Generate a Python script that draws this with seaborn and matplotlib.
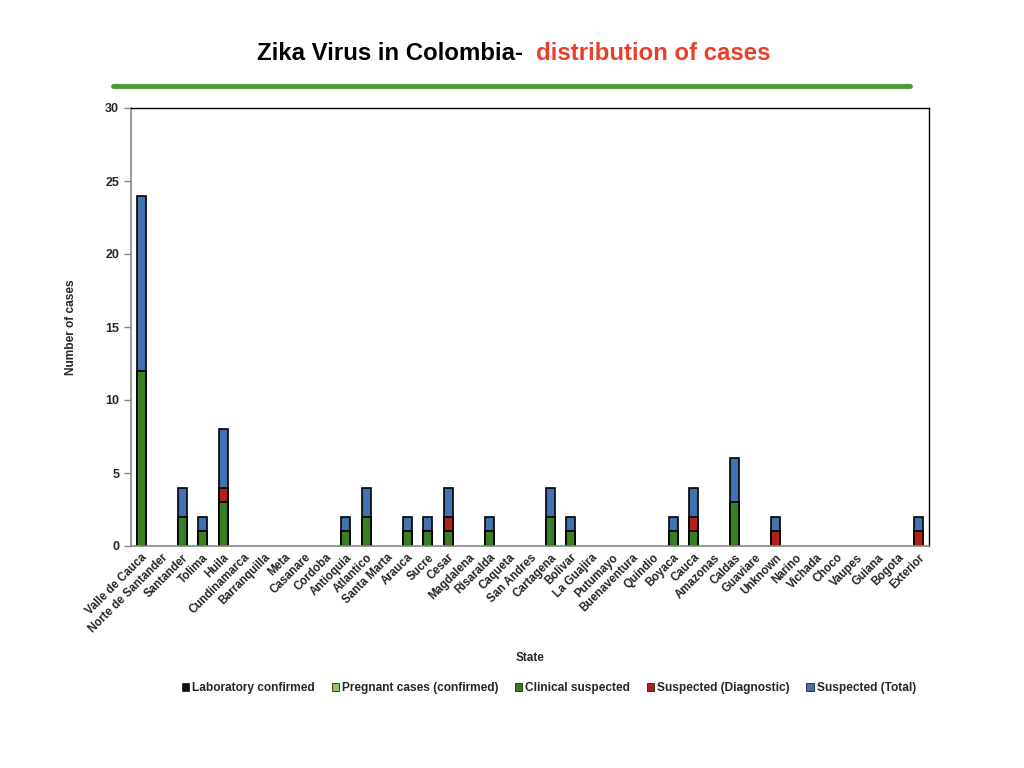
import numpy as np
import pandas as pd
import matplotlib
matplotlib.use('Agg')
import matplotlib.pyplot as plt
import seaborn as sns
from matplotlib.patches import Patch

sns.set_style('white')
plt.rcParams['font.family'] = ['Liberation Sans', 'DejaVu Sans']
plt.rcParams['font.weight'] = 'bold'

# data
states = ['Valle de Cauca', 'Norte de Santander', 'Santander', 'Tolima', 'Huila',
          'Cundinamarca', 'Barranquilla', 'Meta', 'Casanare', 'Cordoba',
          'Antioquia', 'Atlantico', 'Santa Marta', 'Arauca', 'Sucre', 'Cesar',
          'Magdalena', 'Risaralda', 'Caqueta', 'San Andres', 'Cartagena',
          'Bolivar', 'La Guajira', 'Putumayo', 'Buenaventura', 'Quindio',
          'Boyaca', 'Cauca', 'Amazonas', 'Caldas', 'Guaviare', 'Unknown',
          'Narino', 'Vichada', 'Choco', 'Vaupes', 'Guiana', 'Bogota', 'Exterior']
lab_confirmed = [0] * 39
pregnant = [0] * 39
clinical = [12, 0, 2, 1, 3, 0, 0, 0, 0, 0, 1, 2, 0, 1, 1, 1, 0, 1, 0, 0, 2,
            1, 0, 0, 0, 0, 1, 1, 0, 3, 0, 0, 0, 0, 0, 0, 0, 0, 0]
diagnostic = [0, 0, 0, 0, 1, 0, 0, 0, 0, 0, 0, 0, 0, 0, 0, 1, 0, 0, 0, 0, 0,
              0, 0, 0, 0, 0, 0, 1, 0, 0, 0, 1, 0, 0, 0, 0, 0, 0, 1]
suspected_total = [12, 0, 2, 1, 4, 0, 0, 0, 0, 0, 1, 2, 0, 1, 1, 2, 0, 1, 0, 0, 2,
                   1, 0, 0, 0, 0, 1, 2, 0, 3, 0, 1, 0, 0, 0, 0, 0, 0, 1]

series = ['Laboratory confirmed', 'Pregnant cases (confirmed)', 'Clinical suspected',
          'Suspected (Diagnostic)', 'Suspected (Total)']
colors = ['#111111', '#8cc56b', '#3a7d23', '#b0211a', '#4472b0']

df = pd.DataFrame({'state': states, 'lab': lab_confirmed, 'preg': pregnant,
                   'clin': clinical, 'diag': diagnostic, 'total': suspected_total})
# cumulative heights for stacking (draw tallest first)
df['c1'] = df['lab']
df['c2'] = df['c1'] + df['preg']
df['c3'] = df['c2'] + df['clin']
df['c4'] = df['c3'] + df['diag']
df['c5'] = df['c4'] + df['total']

fig = plt.figure(figsize=(10.24, 7.68), dpi=100)
ax = fig.add_axes([131 / 1024, 1 - 546 / 768, 798 / 1024, 438 / 768])

for col, c in zip(['c5', 'c4', 'c3', 'c2', 'c1'], colors[::-1]):
    sub = df[df[col] > 0]
    if len(sub) == 0:
        continue
    sns.barplot(data=sub, x='state', y=col, color=c, ax=ax, width=0.44,
                edgecolor='black', linewidth=1.2, saturation=1, order=states)

ax.set_xlim(-0.5, len(states) - 0.5)
ax.set_ylim(0, 30)
ax.set_yticks([0, 5, 10, 15, 20, 25, 30])
ax.set_xticks(np.arange(len(states)))
ax.set_xticklabels(states, rotation=45, ha='right', rotation_mode='anchor',
                   fontsize=8.3, fontweight='bold')
ax.tick_params(axis='x', length=0, pad=4)
ax.set_xticks(np.arange(len(states) + 1) - 0.5, minor=True)
ax.tick_params(axis='x', which='minor', length=5, color='#888888', width=1)
ax.tick_params(axis='y', length=5, color='#888888', width=1, labelsize=9, left=True)
for t in ax.get_yticklabels():
    t.set_fontweight('bold')

for side in ['left', 'bottom']:
    ax.spines[side].set_color('#888888')
    ax.spines[side].set_linewidth(1.2)
for side in ['top', 'right']:
    ax.spines[side].set_color('black')
    ax.spines[side].set_linewidth(1)

ax.set_xlabel('State', fontsize=8.5, fontweight='bold', labelpad=0)
ax.xaxis.set_label_coords(0.5, -0.243)
ax.set_ylabel('Number of cases', fontsize=8.6, fontweight='bold')
ax.yaxis.set_label_coords(-0.068, 0.5)

# title with two colours
fig.text(523 / 1024, 1 - 54 / 768, 'Zika Virus in Colombia-', ha='right', va='center',
         fontsize=17.3, fontweight='bold', color='black')
fig.text(536 / 1024, 1 - 54 / 768, 'distribution of cases', ha='left', va='center',
         fontsize=17.3, fontweight='bold', color='#e8402a')
fig.add_artist(plt.Line2D([113 / 1024, 910 / 1024], [1 - 86 / 768, 1 - 86 / 768],
                          color='#4a9a2f', linewidth=3.5))

handles = [Patch(facecolor=c, edgecolor='#222222', linewidth=0.6) for c in colors]
fig.legend(handles, series, loc='center', bbox_to_anchor=(549 / 1024, 1 - 688 / 768),
           ncol=5, frameon=False, handlelength=0.6, handleheight=0.6,
           handletextpad=0.25, columnspacing=1.4, prop={'weight': 'bold', 'size': 8.6})

fig.savefig('out.png', dpi=100)
